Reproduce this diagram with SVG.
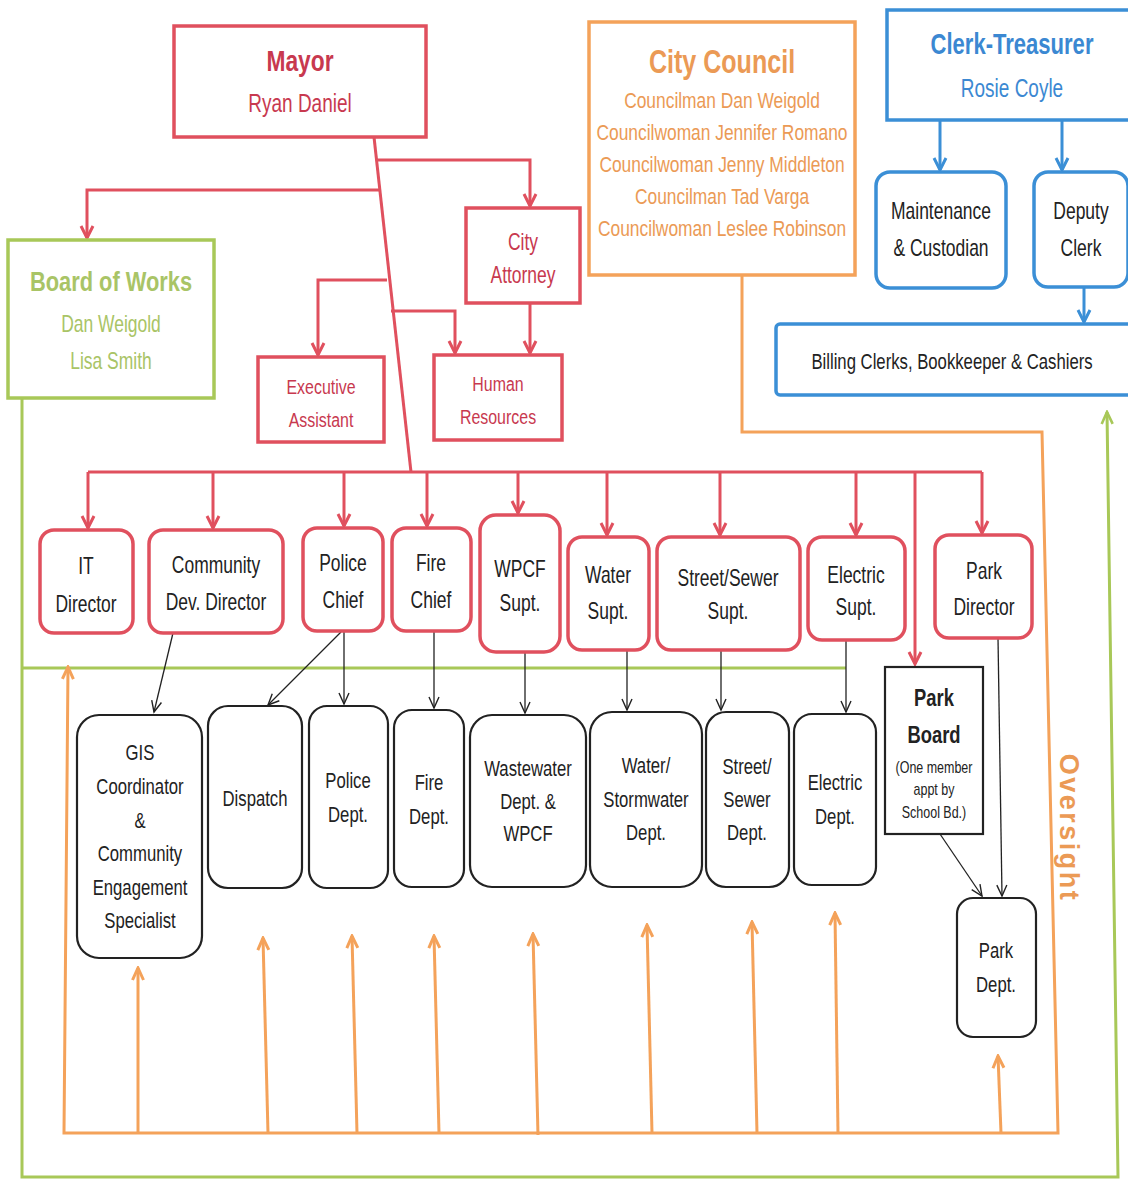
<svg xmlns="http://www.w3.org/2000/svg" width="1128" height="1181" viewBox="0 0 1128 1181">
<defs>
<marker id="mr" viewBox="-14 -8 16 16" refX="0" refY="0" markerWidth="16" markerHeight="16" markerUnits="userSpaceOnUse" orient="auto">
<path d="M-12,-6 L0,0 L-12,6" fill="none" stroke="#e0505e" stroke-width="3"/>
</marker>
<marker id="mb" viewBox="-14 -8 16 16" refX="0" refY="0" markerWidth="16" markerHeight="16" markerUnits="userSpaceOnUse" orient="auto">
<path d="M-12,-6 L0,0 L-12,6" fill="none" stroke="#3b8fd6" stroke-width="3"/>
</marker>
<marker id="mk" viewBox="-14 -8 16 16" refX="0" refY="0" markerWidth="16" markerHeight="16" markerUnits="userSpaceOnUse" orient="auto">
<path d="M-11,-5 L0,0 L-11,5" fill="none" stroke="#222" stroke-width="1.4"/>
</marker>
<marker id="mo" viewBox="-14 -8 16 16" refX="0" refY="0" markerWidth="16" markerHeight="16" markerUnits="userSpaceOnUse" orient="auto">
<path d="M-12,-5.5 L0,0 L-12,5.5" fill="none" stroke="#f4a25a" stroke-width="3"/>
</marker>
<marker id="mg" viewBox="-14 -8 16 16" refX="0" refY="0" markerWidth="16" markerHeight="16" markerUnits="userSpaceOnUse" orient="auto">
<path d="M-12,-5.5 L0,0 L-12,5.5" fill="none" stroke="#a8c858" stroke-width="2.6"/>
</marker>
</defs>
<style>
text{font-family:"Liberation Sans",Arial,sans-serif;text-anchor:middle}
.red{fill:#fff;stroke:#e0505e;stroke-width:3.5}
.blk{fill:#fff;stroke:#222;stroke-width:2.2}
.blu{fill:#fff;stroke:#3b8fd6;stroke-width:3.5}
.lr{fill:none;stroke:#e0505e;stroke-width:3}
.lk{fill:none;stroke:#222;stroke-width:1.3}
.lb{fill:none;stroke:#3b8fd6;stroke-width:3}
.lo{fill:none;stroke:#f4a25a;stroke-width:3}
.lg{fill:none;stroke:#a8c858;stroke-width:3}
.tr{fill:#c8394f;font-size:23px}
.tk{fill:#222;font-size:23px}
.tk2{fill:#222;font-size:22px}
.to{fill:#eb9a55;font-size:22px}
.tg{fill:#a9c466;font-size:23px}
.tb{fill:#3b88d2;font-size:25px}
</style>
<rect width="1128" height="1181" fill="#fff"/>

<g id="connectors">
<polyline class="lg" points="22,398 22,1177 1118,1177 1107,412" marker-end="url(#mg)"/>
<line class="lg" x1="22" y1="668" x2="846" y2="668"/>
<polyline class="lo" points="742,275 742,432 1042,432 1058,1133 64,1133 68,667" marker-end="url(#mo)"/>
<line class="lo" x1="138" y1="1133" x2="138" y2="968" marker-end="url(#mo)"/>
<line class="lo" x1="268" y1="1133" x2="263" y2="938" marker-end="url(#mo)"/>
<line class="lo" x1="357" y1="1133" x2="352" y2="936" marker-end="url(#mo)"/>
<line class="lo" x1="439" y1="1133" x2="434" y2="936" marker-end="url(#mo)"/>
<line class="lo" x1="538" y1="1135" x2="533" y2="934" marker-end="url(#mo)"/>
<line class="lo" x1="652" y1="1133" x2="647" y2="925" marker-end="url(#mo)"/>
<line class="lo" x1="757" y1="1133" x2="752" y2="922" marker-end="url(#mo)"/>
<line class="lo" x1="838" y1="1133" x2="835" y2="913" marker-end="url(#mo)"/>
<line class="lo" x1="1001" y1="1133" x2="998" y2="1056" marker-end="url(#mo)"/>
<line class="lr" x1="374" y1="137" x2="411" y2="472"/>
<polyline class="lr" points="377,160 530,160 530,206" marker-end="url(#mr)"/>
<polyline class="lr" points="380,190 87,190 87,238" marker-end="url(#mr)"/>
<polyline class="lr" points="387,280 318,280 318,355" marker-end="url(#mr)"/>
<polyline class="lr" points="391,311 455,311 455,353" marker-end="url(#mr)"/>
<line class="lr" x1="530" y1="303" x2="530" y2="353" marker-end="url(#mr)"/>
<line class="lr" x1="88" y1="472" x2="982" y2="472"/>
<line class="lr" x1="88" y1="472" x2="88" y2="528" marker-end="url(#mr)"/>
<line class="lr" x1="213" y1="472" x2="213" y2="528" marker-end="url(#mr)"/>
<line class="lr" x1="344" y1="472" x2="344" y2="526" marker-end="url(#mr)"/>
<line class="lr" x1="427" y1="472" x2="427" y2="526" marker-end="url(#mr)"/>
<line class="lr" x1="518" y1="472" x2="518" y2="513" marker-end="url(#mr)"/>
<line class="lr" x1="607" y1="472" x2="607" y2="535" marker-end="url(#mr)"/>
<line class="lr" x1="720" y1="472" x2="720" y2="535" marker-end="url(#mr)"/>
<line class="lr" x1="856" y1="472" x2="856" y2="535" marker-end="url(#mr)"/>
<line class="lr" x1="915" y1="472" x2="915" y2="664" marker-end="url(#mr)"/>
<line class="lr" x1="982" y1="472" x2="982" y2="533" marker-end="url(#mr)"/>
<line class="lb" x1="940" y1="120" x2="940" y2="170" marker-end="url(#mb)"/>
<line class="lb" x1="1062" y1="120" x2="1062" y2="170" marker-end="url(#mb)"/>
<line class="lb" x1="1084" y1="287" x2="1084" y2="322" marker-end="url(#mb)"/>
<line class="lk" x1="173" y1="633" x2="154" y2="712" marker-end="url(#mk)"/>
<line class="lk" x1="341" y1="632" x2="268" y2="705" marker-end="url(#mk)"/>
<line class="lk" x1="344" y1="632" x2="344" y2="704" marker-end="url(#mk)"/>
<line class="lk" x1="434" y1="632" x2="434" y2="708" marker-end="url(#mk)"/>
<line class="lk" x1="525" y1="652" x2="525" y2="713" marker-end="url(#mk)"/>
<line class="lk" x1="627" y1="650" x2="627" y2="710" marker-end="url(#mk)"/>
<line class="lk" x1="721" y1="650" x2="721" y2="710" marker-end="url(#mk)"/>
<line class="lk" x1="846" y1="640" x2="846" y2="712" marker-end="url(#mk)"/>
<line class="lk" x1="940" y1="834" x2="982" y2="896" marker-end="url(#mk)"/>
<line class="lk" x1="998" y1="638" x2="1002" y2="896" marker-end="url(#mk)"/>
</g>

<g id="mayor"><rect class="red" x="174" y="26" width="252" height="111"/>
<text transform="translate(300,71) scale(.76,1)" class="tr" style="font-size:30px;font-weight:bold">Mayor</text>
<text transform="translate(300,112) scale(.76,1)" class="tr" style="font-size:25px">Ryan Daniel</text></g>

<g id="board-of-works"><rect x="8" y="240" width="206" height="158" fill="#fff" stroke="#a8c858" stroke-width="3.5"/>
<text transform="translate(111,291) scale(.78,1)" class="tg" style="font-size:28px;font-weight:bold">Board of Works</text>
<text transform="translate(111,332) scale(.76,1)" class="tg">Dan Weigold</text>
<text transform="translate(111,369) scale(.76,1)" class="tg">Lisa Smith</text></g>

<g id="city-attorney"><rect class="red" x="466" y="208" width="114" height="95"/>
<text transform="translate(523,250) scale(.76,1)" class="tr">City</text>
<text transform="translate(523,283) scale(.76,1)" class="tr">Attorney</text></g>

<g id="executive-assistant"><rect class="red" x="258" y="357" width="126" height="85"/>
<text transform="translate(321,394) scale(.76,1)" class="tr" style="font-size:21px">Executive</text>
<text transform="translate(321,427) scale(.76,1)" class="tr" style="font-size:21px">Assistant</text></g>

<g id="human-resources"><rect class="red" x="434" y="355" width="128" height="85"/>
<text transform="translate(498,391) scale(.76,1)" class="tr" style="font-size:21px">Human</text>
<text transform="translate(498,424) scale(.76,1)" class="tr" style="font-size:21px">Resources</text></g>

<g id="city-council"><rect x="589" y="22" width="266" height="253" fill="#fff" stroke="#f4a25a" stroke-width="3.5"/>
<text transform="translate(722,73) scale(.76,1)" class="to" style="font-size:33px;font-weight:bold">City Council</text>
<text transform="translate(722,108) scale(.79,1)" class="to">Councilman Dan Weigold</text>
<text transform="translate(722,140) scale(.79,1)" class="to">Councilwoman Jennifer Romano</text>
<text transform="translate(722,172) scale(.79,1)" class="to">Councilwoman Jenny Middleton</text>
<text transform="translate(722,204) scale(.79,1)" class="to">Councilman Tad Varga</text>
<text transform="translate(722,236) scale(.79,1)" class="to">Councilwoman Leslee Robinson</text></g>

<g id="clerk-treasurer"><rect class="blu" x="887" y="10" width="245" height="110"/>
<text transform="translate(1012,54) scale(.76,1)" class="tb" style="font-size:29px;font-weight:bold">Clerk-Treasurer</text>
<text transform="translate(1012,97) scale(.76,1)" class="tb">Rosie Coyle</text></g>

<g id="maintenance"><rect class="blu" x="876" y="172" width="130" height="116" rx="14"/>
<text transform="translate(941,219) scale(.76,1)" class="tk">Maintenance</text>
<text transform="translate(941,256) scale(.76,1)" class="tk">&amp; Custodian</text></g>

<g id="deputy-clerk"><rect class="blu" x="1034" y="172" width="94" height="115" rx="14"/>
<text transform="translate(1081,219) scale(.76,1)" class="tk">Deputy</text>
<text transform="translate(1081,256) scale(.76,1)" class="tk">Clerk</text></g>

<g id="billing"><rect class="blu" x="776" y="324" width="356" height="71" rx="4"/>
<text transform="translate(952,369) scale(.76,1)" class="tk" style="font-size:22px">Billing Clerks, Bookkeeper &amp; Cashiers</text></g>

<g id="it-director"><rect class="red" x="40" y="530" width="93" height="103" rx="14"/>
<text transform="translate(86,574) scale(.76,1)" class="tk">IT</text>
<text transform="translate(86,612) scale(.76,1)" class="tk">Director</text></g>

<g id="community-dev"><rect class="red" x="149" y="530" width="134" height="103" rx="14"/>
<text transform="translate(216,573) scale(.76,1)" class="tk">Community</text>
<text transform="translate(216,610) scale(.76,1)" class="tk">Dev. Director</text></g>

<g id="police-chief"><rect class="red" x="303" y="528" width="80" height="103" rx="14"/>
<text transform="translate(343,571) scale(.76,1)" class="tk">Police</text>
<text transform="translate(343,608) scale(.76,1)" class="tk">Chief</text></g>

<g id="fire-chief"><rect class="red" x="392" y="528" width="79" height="103" rx="14"/>
<text transform="translate(431,571) scale(.76,1)" class="tk">Fire</text>
<text transform="translate(431,608) scale(.76,1)" class="tk">Chief</text></g>

<g id="wpcf-supt"><rect class="red" x="480" y="515" width="80" height="137" rx="16"/>
<text transform="translate(520,577) scale(.76,1)" class="tk">WPCF</text>
<text transform="translate(520,611) scale(.76,1)" class="tk">Supt.</text></g>

<g id="water-supt"><rect class="red" x="568" y="537" width="81" height="113" rx="14"/>
<text transform="translate(608,583) scale(.76,1)" class="tk">Water</text>
<text transform="translate(608,619) scale(.76,1)" class="tk">Supt.</text></g>

<g id="street-sewer-supt"><rect class="red" x="657" y="537" width="143" height="113" rx="14"/>
<text transform="translate(728,586) scale(.76,1)" class="tk">Street/Sewer</text>
<text transform="translate(728,619) scale(.76,1)" class="tk">Supt.</text></g>

<g id="electric-supt"><rect class="red" x="808" y="537" width="97" height="103" rx="14"/>
<text transform="translate(856,583) scale(.76,1)" class="tk">Electric</text>
<text transform="translate(856,615) scale(.76,1)" class="tk">Supt.</text></g>

<g id="park-director"><rect class="red" x="935" y="535" width="97" height="103" rx="14"/>
<text transform="translate(984,579) scale(.76,1)" class="tk">Park</text>
<text transform="translate(984,615) scale(.76,1)" class="tk">Director</text></g>

<g id="gis"><rect class="blk" x="77" y="715" width="125" height="243" rx="22"/>
<text transform="translate(140,760) scale(.76,1)" class="tk2">GIS</text>
<text transform="translate(140,794) scale(.76,1)" class="tk2">Coordinator</text>
<text transform="translate(140,828) scale(.76,1)" class="tk2">&amp;</text>
<text transform="translate(140,861) scale(.76,1)" class="tk2">Community</text>
<text transform="translate(140,895) scale(.76,1)" class="tk2">Engagement</text>
<text transform="translate(140,928) scale(.76,1)" class="tk2">Specialist</text></g>

<g id="dispatch"><rect class="blk" x="208" y="706" width="94" height="182" rx="20"/>
<text transform="translate(255,806) scale(.76,1)" class="tk2">Dispatch</text></g>

<g id="police-dept"><rect class="blk" x="309" y="706" width="79" height="182" rx="18"/>
<text transform="translate(348,788) scale(.76,1)" class="tk2">Police</text>
<text transform="translate(348,822) scale(.76,1)" class="tk2">Dept.</text></g>

<g id="fire-dept"><rect class="blk" x="394" y="710" width="70" height="177" rx="18"/>
<text transform="translate(429,790) scale(.76,1)" class="tk2">Fire</text>
<text transform="translate(429,824) scale(.76,1)" class="tk2">Dept.</text></g>

<g id="wastewater-dept"><rect class="blk" x="470" y="715" width="116" height="172" rx="22"/>
<text transform="translate(528,776) scale(.76,1)" class="tk2">Wastewater</text>
<text transform="translate(528,809) scale(.76,1)" class="tk2">Dept. &amp;</text>
<text transform="translate(528,841) scale(.76,1)" class="tk2">WPCF</text></g>

<g id="water-dept"><rect class="blk" x="590" y="712" width="112" height="175" rx="22"/>
<text transform="translate(646,773) scale(.76,1)" class="tk2">Water/</text>
<text transform="translate(646,807) scale(.76,1)" class="tk2">Stormwater</text>
<text transform="translate(646,840) scale(.76,1)" class="tk2">Dept.</text></g>

<g id="street-sewer-dept"><rect class="blk" x="706" y="712" width="83" height="175" rx="20"/>
<text transform="translate(747,774) scale(.76,1)" class="tk2">Street/</text>
<text transform="translate(747,807) scale(.76,1)" class="tk2">Sewer</text>
<text transform="translate(747,840) scale(.76,1)" class="tk2">Dept.</text></g>

<g id="electric-dept"><rect class="blk" x="794" y="714" width="82" height="171" rx="18"/>
<text transform="translate(835,790) scale(.76,1)" class="tk2">Electric</text>
<text transform="translate(835,824) scale(.76,1)" class="tk2">Dept.</text></g>

<g id="park-board"><rect class="blk" x="885" y="667" width="98" height="167"/>
<text transform="translate(934,706) scale(.8,1)" class="tk" style="font-weight:bold">Park</text>
<text transform="translate(934,743) scale(.8,1)" class="tk" style="font-weight:bold">Board</text>
<text transform="translate(934,773) scale(.78,1)" class="tk" style="font-size:16px">(One member</text>
<text transform="translate(934,795) scale(.78,1)" class="tk" style="font-size:16px">appt by</text>
<text transform="translate(934,818) scale(.78,1)" class="tk" style="font-size:16px">School Bd.)</text></g>

<g id="park-dept"><rect class="blk" x="957" y="898" width="79" height="139" rx="16"/>
<text transform="translate(996,958) scale(.76,1)" class="tk2">Park</text>
<text transform="translate(996,992) scale(.76,1)" class="tk2">Dept.</text></g>

<text transform="translate(1060,828) rotate(90)" style="font-size:27px;font-weight:bold;fill:#eb9a55;letter-spacing:2.5px">Oversight</text>
</svg>
